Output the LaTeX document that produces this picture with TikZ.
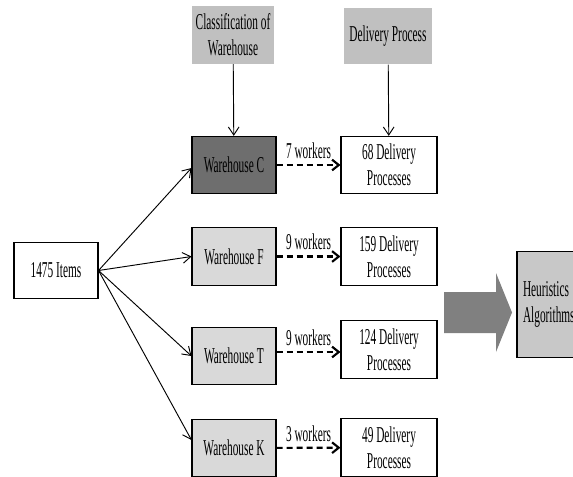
\documentclass[tikz,border=0pt]{standalone}
\usepackage{fontspec}
\setmainfont[FakeStretch=0.5]{Liberation Serif}
\usetikzlibrary{arrows.meta}

\definecolor{headgray}{RGB}{192,192,192}
\definecolor{darkhouse}{RGB}{110,110,110}
\definecolor{lighthouse}{RGB}{217,217,217}
\definecolor{heurgray}{RGB}{200,200,200}
\definecolor{bigarrow}{RGB}{128,128,128}

\tikzset{
  box/.style={draw, line width=0.8pt, align=center, inner sep=1pt, font=\fontsize{17}{19.5}\selectfont},
  headbox/.style={box, draw=none, fill=headgray, minimum height=43pt},
  housebox/.style={box, fill=lighthouse, minimum width=63pt, minimum height=43pt},
  procbox/.style={box, fill=white, minimum width=72pt, minimum height=43pt},
  feed/.style={-{Straight Barb[length=6pt,width=8pt]}, line width=0.7pt},
  crew/.style={-{Straight Barb[length=5pt,width=8pt]}, line width=1.6pt, dash pattern=on 4.5pt off 3pt},
  crewlabel/.style={above, font=\fontsize{17}{19}\selectfont, inner sep=4pt}
}

\begin{document}
\begin{tikzpicture}[x=0.75pt,y=0.75pt,yscale=-1,xscale=1]
\clip (0,0) rectangle (573,476);
\path[use as bounding box] (0,0) rectangle (573,476);

% header boxes
\node[headbox, minimum width=61.5pt] (classhead) at (233,35) {Classification of\\Warehouse};
\node[headbox, minimum width=66pt, minimum height=42pt] (delhead) at (388,36) {Delivery Process};

% warehouses
\node[housebox, fill=darkhouse] (whc) at (234,165) {Warehouse C};
\node[housebox] (whf) at (234,256.5) {Warehouse F};
\node[housebox] (wht) at (234,356) {Warehouse T};
\node[housebox] (whk) at (234,448) {Warehouse K};

% delivery processes
\node[procbox] (dpc) at (389,165) {68 Delivery\\Processes};
\node[procbox] (dpf) at (389,256.5) {159 Delivery\\Processes};
\node[procbox] (dpt) at (389,349.5) {124 Delivery\\Processes};
\node[procbox] (dpk) at (389,447.5) {49 Delivery\\Processes};

% items
\node[box, fill=white, minimum width=63pt, minimum height=42.5pt] (items) at (56,270.5) {1475 Items};

% heuristics
\node[box, fill=heurgray, minimum width=75pt, minimum height=80pt, text width=66pt, align=left] (heur) at (567,304.5) {Heuristics\\Algorithms};

% big arrow
\fill[bigarrow] (444,292) -- (496,292) -- (496,273) -- (512,312.5) -- (496,352) -- (496,333) -- (444,333) -- cycle;

% connectors
\draw[feed] (classhead) -- (whc);
\draw[feed] (delhead) -- (dpc);
\coordinate (fan) at (items.east);
\draw[feed] (fan) -- (whc.west |- 0,168);
\draw[feed] (fan) -- (whf.west);
\draw[feed] (fan) -- (wht.west);
\draw[feed] (fan) -- (whk.west |- 0,440);

\draw[crew] (whc) -- node[crewlabel] {7 workers} (dpc);
\draw[crew] (whf) -- node[crewlabel] {9 workers} (dpf);
\draw[crew] (wht.east |- 0,352) -- node[crewlabel] {9 workers} (dpt.west |- 0,352);
\draw[crew] (whk) -- node[crewlabel] {3 workers} (dpk);

\end{tikzpicture}
\end{document}
